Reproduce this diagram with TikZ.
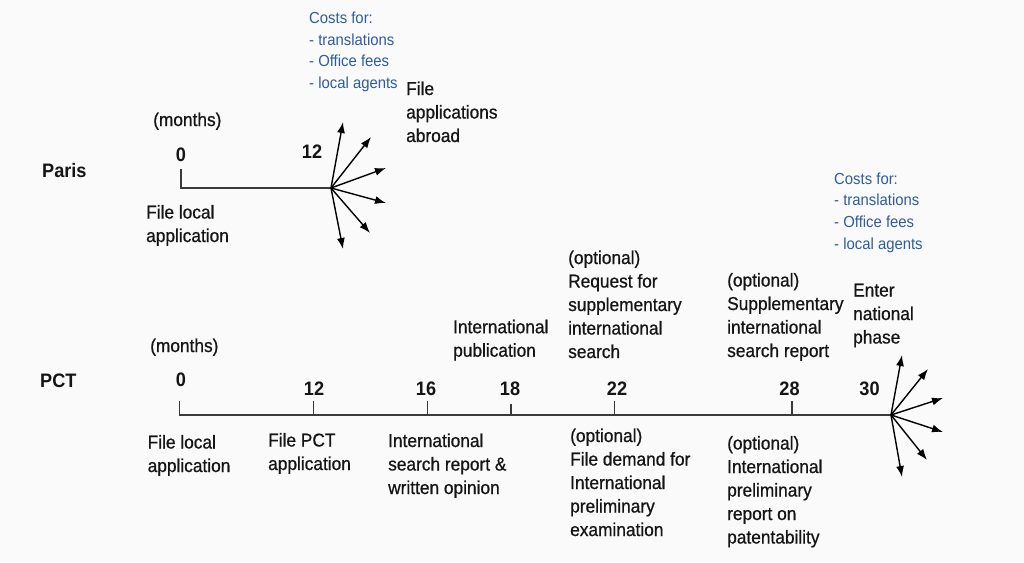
\documentclass[tikz,border=0pt]{standalone}
\usepackage{fontspec}
\setmainfont{Liberation Sans}[FakeStretch=0.93]
\newfontfamily\inkfont{Liberation Sans}[FakeStretch=0.93,FakeBold=0.7]
\usetikzlibrary{arrows.meta}
\definecolor{bg}{HTML}{FAFAFA}
\definecolor{costblue}{HTML}{2F5C9E}
\definecolor{axis}{HTML}{3A3A3A}
\definecolor{ink}{HTML}{151515}
\tikzset{
 lbl/.style={anchor=base west, inner sep=0pt, align=left, font=\inkfont\fontsize{18.6}{23.5}\selectfont, text=ink},
 num/.style={anchor=base, inner sep=0pt, font=\fontsize{19.5}{23}\selectfont\bfseries, text=ink},
 rowname/.style={anchor=base west, inner sep=0pt, font=\fontsize{19.5}{23}\selectfont\bfseries, text=ink},
 cost/.style={anchor=base west, inner sep=0pt, align=left, font=\fontsize{16}{21.6}\selectfont, text=costblue},
 axisline/.style={draw=axis, line width=1.5pt},
 fan/.style={-{Latex[length=11pt,width=8pt]}, line width=1.4pt, draw=black},
}
\begin{document}
\begin{tikzpicture}[x=1pt,y=-1pt]
\fill[bg] (0,0) rectangle (1024,562);
\useasboundingbox (0,0) rectangle (1024,562);

% ---------- Paris ----------
\node[rowname] (paris) at (42,177.5) {Paris};
\node[lbl] (pmonths) at (153,126) {(months)};
\node[num] (pn0) at (181,161.5) {0};
\node[num] (pn12) at (312,158.5) {12};
\node[lbl] (plocal) at (146,242) {File local\\application};
\node[lbl] (pabroad) at (406,142) {File\\applications\\abroad};
\node[cost] (pcost) at (309,88.5) {Costs for:\\- translations\\- Office fees\\- local agents};

\coordinate (p0t) at (181,169);
\coordinate (p0) at (181,188);
\coordinate (p12) at (331,188);
\draw[axisline] (p0t) -- (p0) -- (p12);
\coordinate (pa1) at (343,122);
\coordinate (pa2) at (371,137);
\coordinate (pa3) at (386,168);
\coordinate (pa4) at (386,203);
\coordinate (pa5) at (370,233);
\coordinate (pa6) at (343,249);
\foreach \t in {pa1,pa2,pa3,pa4,pa5,pa6} \draw[fan] (p12) -- (\t);

% ---------- PCT ----------
\node[rowname] (pct) at (40,387.5) {PCT};
\node[lbl] (cmonths) at (150,352) {(months)};
\node[num] (cn0) at (181,386) {0};
\node[num] (cn12) at (314,395.5) {12};
\node[num] (cn16) at (426,395.5) {16};
\node[num] (cn18) at (510,395.5) {18};
\node[num] (cn22) at (617,395.5) {22};
\node[num] (cn28) at (789.5,395.5) {28};
\node[num] (cn30) at (869.5,395.5) {30};

\coordinate (c0t) at (179.5,401);
\coordinate (c0) at (179.5,415);
\coordinate (cend) at (891,415);
\draw[axisline] (c0t) -- (c0) -- (cend);
\foreach \x/\top in {313.5/401,427.5/401,511/404,614.7/401,792/401}
  \draw[axisline] (\x,\top) -- (\x,415);
\coordinate (ca1) at (902,355);
\coordinate (ca2) at (928,369);
\coordinate (ca3) at (943,398);
\coordinate (ca4) at (943,432);
\coordinate (ca5) at (927,460);
\coordinate (ca6) at (902,477);
\foreach \t in {ca1,ca2,ca3,ca4,ca5,ca6} \draw[fan] (cend) -- (\t);

\node[lbl] (clocal) at (147.5,472) {File local\\application};
\node[lbl] (cpct) at (268,470) {File PCT\\application};
\node[lbl] (cisr) at (388,494) {International\\search report \&\\written opinion};
\node[lbl] (cpub) at (453,356.7) {International\\publication};
\node[lbl] (csis) at (568,358) {(optional)\\Request for\\supplementary\\international\\search};
\node[lbl] (cdemand) at (570,536) {(optional)\\File demand for\\International\\preliminary\\examination};
\node[lbl] (csisr) at (727,357) {(optional)\\Supplementary\\international\\search report};
\node[lbl] (ciprp) at (727,543.5) {(optional)\\International\\preliminary\\report on\\patentability};
\node[lbl] (center) at (853,343.5) {Enter\\national\\phase};
\node[cost] (ccost) at (834,249) {Costs for:\\- translations\\- Office fees\\- local agents};
\end{tikzpicture}
\end{document}
